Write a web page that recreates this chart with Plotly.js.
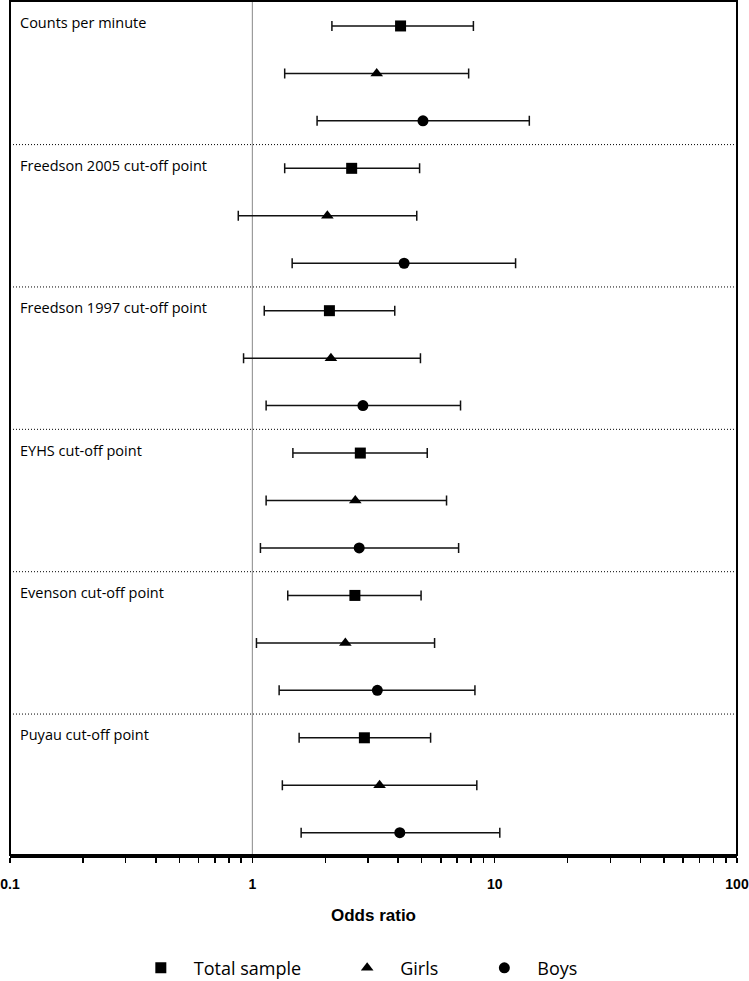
<!DOCTYPE html>
<html>
<head>
<meta charset="utf-8">
<script src="https://cdn.plot.ly/plotly-3.0.1.min.js"></script>
<style>html,body{margin:0;padding:0;background:#fff;}#chart{width:749px;height:981px;}</style>
</head>
<body>
<div id="chart"></div>
<script>
const groups = ["Counts per minute","Freedson 2005 cut-off point","Freedson 1997 cut-off point","EYHS cut-off point","Evenson cut-off point","Puyau cut-off point"];
const seriesNames = ["Total sample","Girls","Boys"];
const totalOR = [4.09, 2.57, 2.08, 2.79, 2.65, 2.90];
const totalLo = [2.13, 1.36, 1.12, 1.47, 1.40, 1.56];
const totalHi = [8.17, 4.90, 3.87, 5.27, 4.97, 5.44];
const girlsOR = [3.26, 2.04, 2.11, 2.66, 2.42, 3.35];
const girlsLo = [1.36, 0.875, 0.92, 1.14, 1.04, 1.33];
const girlsHi = [7.81, 4.77, 4.94, 6.33, 5.65, 8.44];
const boysOR  = [5.06, 4.23, 2.86, 2.76, 3.28, 4.06];
const boysLo  = [1.85, 1.46, 1.14, 1.08, 1.29, 1.59];
const boysHi  = [13.9, 12.2, 7.23, 7.10, 8.29, 10.5];
const xTicks = [0.1, 1, 10, 100];
const xTickText = ["0.1","1","10","100"];

const ORs = [totalOR, girlsOR, boysOR];
const Los = [totalLo, girlsLo, boysLo];
const His = [totalHi, girlsHi, boysHi];
const symbols = ["square","triangle-up","circle"];
const sizes = [11, 11, 11];
const pad = "\u00A0".repeat(6);

const minorVals = [];
[0.1, 1, 10].forEach(d => { for (let k = 2; k <= 9; k++) minorVals.push(d * k); });

const traces = seriesNames.map((name, s) => ({
  type: "scatter",
  mode: "markers",
  name: s < 2 ? name + pad : name,
  x: ORs[s],
  y: groups.map((g, i) => i * 3 + s),
  error_x: {
    type: "data",
    symmetric: false,
    array: ORs[s].map((v, i) => His[s][i] - v),
    arrayminus: ORs[s].map((v, i) => v - Los[s][i]),
    color: "#111",
    thickness: 1.5,
    width: 5
  },
  marker: {symbol: symbols[s], size: sizes[s], color: "#000"},
  hoverinfo: "x+name"
}));

const shapes = [];
for (let i = 1; i < groups.length; i++) {
  shapes.push({type: "line", xref: "paper", x0: 0, x1: 1, yref: "y", y0: i * 3 - 0.5, y1: i * 3 - 0.5,
    line: {color: "#000", width: 1, dash: "1px,2px"}});
}
shapes.push({type: "line", xref: "x", x0: 1, x1: 1, yref: "paper", y0: 0, y1: 1,
  line: {color: "#888", width: 1}, layer: "below"});
shapes.push({type: "rect", xref: "paper", yref: "paper", x0: 0, x1: 1, y0: 0, y1: 1,
  line: {color: "#000", width: 2}});

const annotations = groups.map((g, i) => ({
  text: g, xref: "paper", x: 0, xanchor: "left", xshift: 8,
  yref: "y", y: i * 3, yanchor: "middle", yshift: 3, showarrow: false,
  font: {family: "Open Sans, Noto Sans, sans-serif", size: 14.5, color: "#000"}
}));

const layout = {
  width: 749, height: 981,
  margin: {l: 10, r: 12, t: 1, b: 126, autoexpand: false},
  paper_bgcolor: "#fff", plot_bgcolor: "#fff",
  showlegend: true,
  legend: {orientation: "h", x: 0.475, xanchor: "center", y: -0.1325, yanchor: "middle",
    font: {family: "Open Sans, Noto Sans, sans-serif", size: 18, color: "#000"}, itemwidth: 56, traceorder: "normal"},
  xaxis: {
    type: "log", range: [-1, 2], tickvals: xTicks, ticktext: xTickText,
    ticks: "outside", ticklen: 5, tickwidth: 1.5, tickcolor: "#000",
    showline: true, linecolor: "#000", linewidth: 2.5, mirror: false,
    showgrid: false, zeroline: false, ticklabelstandoff: 10,
    minor: {tickvals: minorVals, ticks: "outside", ticklen: 5, tickwidth: 1.5, tickcolor: "#000", showgrid: false},
    tickfont: {family: "Liberation Sans, Arial, sans-serif", size: 14, color: "#000", weight: "bold"},
    title: {text: "<b>Odds ratio</b>", font: {family: "Liberation Sans, Arial, sans-serif", size: 17, color: "#000"}, standoff: 18}
  },
  yaxis: {
    range: [17.47, -0.526], showticklabels: false, ticks: "", showgrid: false, zeroline: false, showline: false
  },
  shapes: shapes,
  annotations: annotations
};

Plotly.newPlot("chart", traces, layout, {displayModeBar: false, staticPlot: true});
</script>
</body>
</html>
